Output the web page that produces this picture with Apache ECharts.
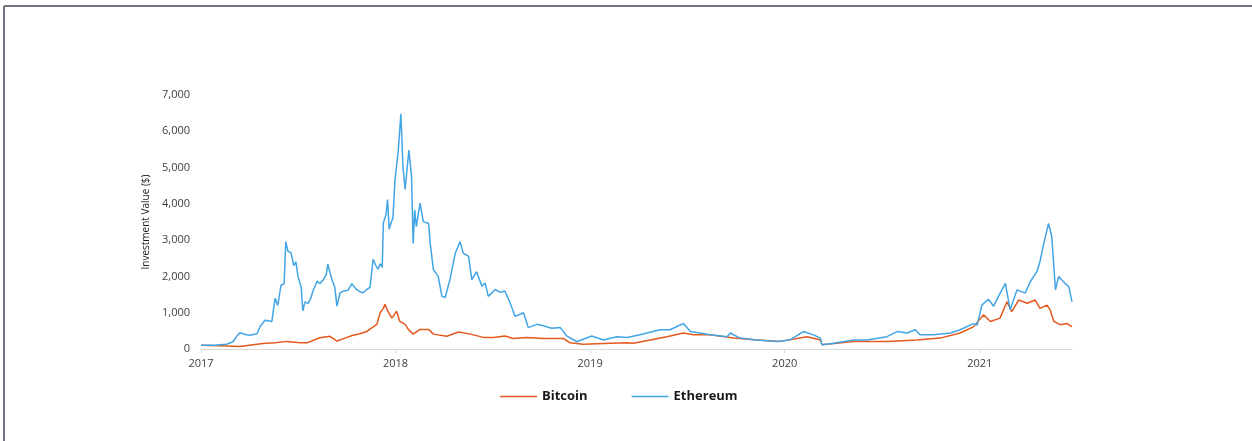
<!DOCTYPE html>
<html>
<head>
<meta charset="utf-8">
<script src="https://cdn.jsdelivr.net/npm/echarts@6/dist/echarts.min.js"></script>
<style>
html,body{margin:0;padding:0;background:#fff;}
#c{width:1252px;height:441px;}
</style>
</head>
<body>
<div id="c"></div>
<script>
const yearTicks = ['2017-01-01','2018-01-01','2019-01-01','2020-01-01','2021-01-01'];
const yTickMax = 7000;
const yTickStep = 1000;

const btcDates = ['2017-01-01','2017-02-06','2017-03-15','2017-04-27','2017-05-20','2017-06-11','2017-07-06','2017-07-19','2017-08-12','2017-08-25','2017-08-31','2017-09-13','2017-09-28','2017-10-13','2017-10-26','2017-11-08','2017-11-14','2017-11-27','2017-12-03','2017-12-09','2017-12-12','2017-12-19','2017-12-25','2018-01-03','2018-01-09','2018-01-19','2018-01-25','2018-02-03','2018-02-16','2018-03-04','2018-03-13','2018-04-07','2018-04-29','2018-05-21','2018-06-15','2018-07-04','2018-07-25','2018-08-10','2018-09-04','2018-10-05','2018-11-12','2018-11-24','2018-12-19','2019-01-26','2019-03-11','2019-03-23','2019-04-24','2019-05-25','2019-06-25','2019-07-14','2019-08-14','2019-09-27','2019-11-10','2019-12-24','2020-02-12','2020-03-08','2020-03-11','2020-05-09','2020-07-11','2020-09-05','2020-10-19','2020-11-25','2020-12-20','2021-01-08','2021-01-21','2021-02-08','2021-02-21','2021-03-02','2021-03-15','2021-03-31','2021-04-15','2021-04-24','2021-05-07','2021-05-13','2021-05-20','2021-06-01','2021-06-14','2021-06-23'];
const btcValues = [100,90,70,150,170,210,170,170,310,340,350,220,300,380,420,480,550,680,1000,1120,1230,1000,850,1040,760,680,540,410,540,540,410,350,470,410,320,320,360,290,320,290,290,170,130,150,170,160,250,340,440,390,390,300,250,210,340,250,120,210,210,250,300,440,610,940,760,850,1300,1030,1350,1260,1350,1120,1210,1080,760,670,700,610];

const ethDates = ['2017-01-01','2017-01-27','2017-02-18','2017-03-02','2017-03-09','2017-03-15','2017-03-25','2017-04-03','2017-04-16','2017-04-22','2017-05-01','2017-05-14','2017-05-20','2017-05-25','2017-05-31','2017-06-06','2017-06-09','2017-06-13','2017-06-19','2017-06-24','2017-06-28','2017-07-02','2017-07-08','2017-07-11','2017-07-15','2017-07-21','2017-07-26','2017-07-30','2017-08-07','2017-08-12','2017-08-18','2017-08-24','2017-08-27','2017-08-31','2017-09-04','2017-09-09','2017-09-13','2017-09-19','2017-09-26','2017-10-04','2017-10-11','2017-10-19','2017-10-26','2017-11-01','2017-11-09','2017-11-14','2017-11-20','2017-11-25','2017-11-29','2017-12-03','2017-12-07','2017-12-09','2017-12-14','2017-12-17','2017-12-20','2017-12-24','2017-12-27','2017-12-31','2018-01-06','2018-01-11','2018-01-15','2018-01-19','2018-01-26','2018-01-31','2018-02-03','2018-02-06','2018-02-09','2018-02-16','2018-02-22','2018-03-04','2018-03-07','2018-03-13','2018-03-22','2018-03-29','2018-04-04','2018-04-13','2018-04-23','2018-05-02','2018-05-08','2018-05-18','2018-05-24','2018-06-02','2018-06-12','2018-06-18','2018-06-24','2018-07-07','2018-07-16','2018-07-25','2018-08-04','2018-08-13','2018-08-29','2018-09-07','2018-09-23','2018-10-05','2018-10-21','2018-11-06','2018-11-18','2018-12-07','2018-12-19','2019-01-04','2019-01-26','2019-02-20','2019-03-11','2019-04-05','2019-05-12','2019-05-31','2019-06-19','2019-06-25','2019-07-08','2019-07-26','2019-08-14','2019-09-15','2019-09-21','2019-10-09','2019-11-10','2019-12-17','2020-01-11','2020-02-05','2020-02-24','2020-03-08','2020-03-11','2020-04-02','2020-05-09','2020-06-03','2020-07-11','2020-07-30','2020-08-17','2020-09-02','2020-09-11','2020-10-06','2020-11-07','2020-11-25','2020-12-20','2020-12-27','2021-01-05','2021-01-17','2021-01-27','2021-02-05','2021-02-18','2021-02-27','2021-03-12','2021-03-27','2021-04-06','2021-04-18','2021-04-24','2021-05-01','2021-05-10','2021-05-16','2021-05-23','2021-05-29','2021-06-04','2021-06-10','2021-06-17','2021-06-23'];
const ethValues = [100,100,130,200,350,450,400,380,420,620,790,760,1400,1200,1750,1800,2960,2700,2650,2300,2400,2000,1700,1050,1300,1250,1400,1600,1870,1800,1900,2050,2340,2100,1900,1700,1180,1550,1600,1620,1800,1650,1580,1550,1650,1700,2470,2300,2200,2350,2250,3470,3700,4120,3300,3500,3600,4670,5450,6480,5000,4400,5480,4750,2910,3830,3370,4020,3510,3460,2910,2190,2000,1450,1420,1910,2640,2960,2640,2550,1910,2130,1730,1820,1450,1640,1560,1600,1270,900,1000,590,680,640,570,590,360,200,270,360,250,340,320,390,530,530,660,700,480,440,390,340,440,300,250,210,250,480,390,300,120,160,250,250,340,480,440,530,390,390,440,530,700,660,1210,1370,1180,1450,1810,1080,1630,1540,1860,2130,2410,2910,3460,3100,1630,2000,1900,1810,1720,1300];

const toTime = d => { const p = d.split('-').map(Number); return Date.UTC(p[0], p[1] - 1, p[2]); };
const chart = echarts.init(document.getElementById('c'), null, {renderer: 'canvas'});
const fontFam = '"Open Sans", "Noto Sans", sans-serif';
const tickTimes = yearTicks.map(toTime);

chart.setOption({
  animation: false,
  backgroundColor: '#ffffff',
  graphic: [
    {type: 'line', shape: {x1: 4, y1: 6, x2: 1252, y2: 6}, style: {stroke: '#77727f', lineWidth: 2}},
    {type: 'line', shape: {x1: 4, y1: 6, x2: 4, y2: 441}, style: {stroke: '#77727f', lineWidth: 2}}
  ],
  grid: {left: 201, right: 180, top: 95, bottom: 92, containLabel: false},
  legend: {
    data: ['Bitcoin', 'Ethereum'],
    left: 495, top: 385,
    icon: 'rect',
    itemWidth: 37, itemHeight: 1.5,
    itemGap: 44,
    textStyle: {fontFamily: fontFam, fontWeight: 'bold', fontSize: 13, color: '#1a1a1a'}
  },
  xAxis: {
    type: 'value',
    min: toTime(btcDates[0]),
    max: toTime(btcDates[btcDates.length - 1]),
    axisLine: {show: true, lineStyle: {color: '#d9d9d9', width: 1}},
    axisTick: {show: true, customValues: tickTimes, length: 4, lineStyle: {color: '#d9d9d9'}},
    axisLabel: {
      customValues: tickTimes,
      formatter: v => String(new Date(v).getUTCFullYear()),
      fontFamily: fontFam, fontSize: 11, color: '#404040', margin: 9
    },
    splitLine: {show: false}
  },
  yAxis: {
    type: 'value',
    min: 0, max: yTickMax, interval: yTickStep,
    name: 'Investment Value ($)',
    nameLocation: 'middle',
    nameGap: 43,
    nameRotate: 90,
    nameTextStyle: {fontFamily: fontFam, fontSize: 10, color: '#1a1a1a'},
    axisLine: {show: false},
    axisTick: {show: false},
    splitLine: {show: false},
    axisLabel: {
      formatter: v => v.toLocaleString('en-US'),
      fontFamily: fontFam, fontSize: 11, color: '#404040', margin: 11
    }
  },
  series: [
    {
      name: 'Bitcoin', type: 'line', showSymbol: false, symbol: 'none',
      lineStyle: {color: '#E5581F', width: 1.5},
      itemStyle: {color: '#E5581F'},
      data: btcDates.map((d, i) => [toTime(d), btcValues[i]])
    },
    {
      name: 'Ethereum', type: 'line', showSymbol: false, symbol: 'none',
      lineStyle: {color: '#42A5E5', width: 1.5},
      itemStyle: {color: '#42A5E5'},
      data: ethDates.map((d, i) => [toTime(d), ethValues[i]])
    }
  ]
});
</script>
</body>
</html>
